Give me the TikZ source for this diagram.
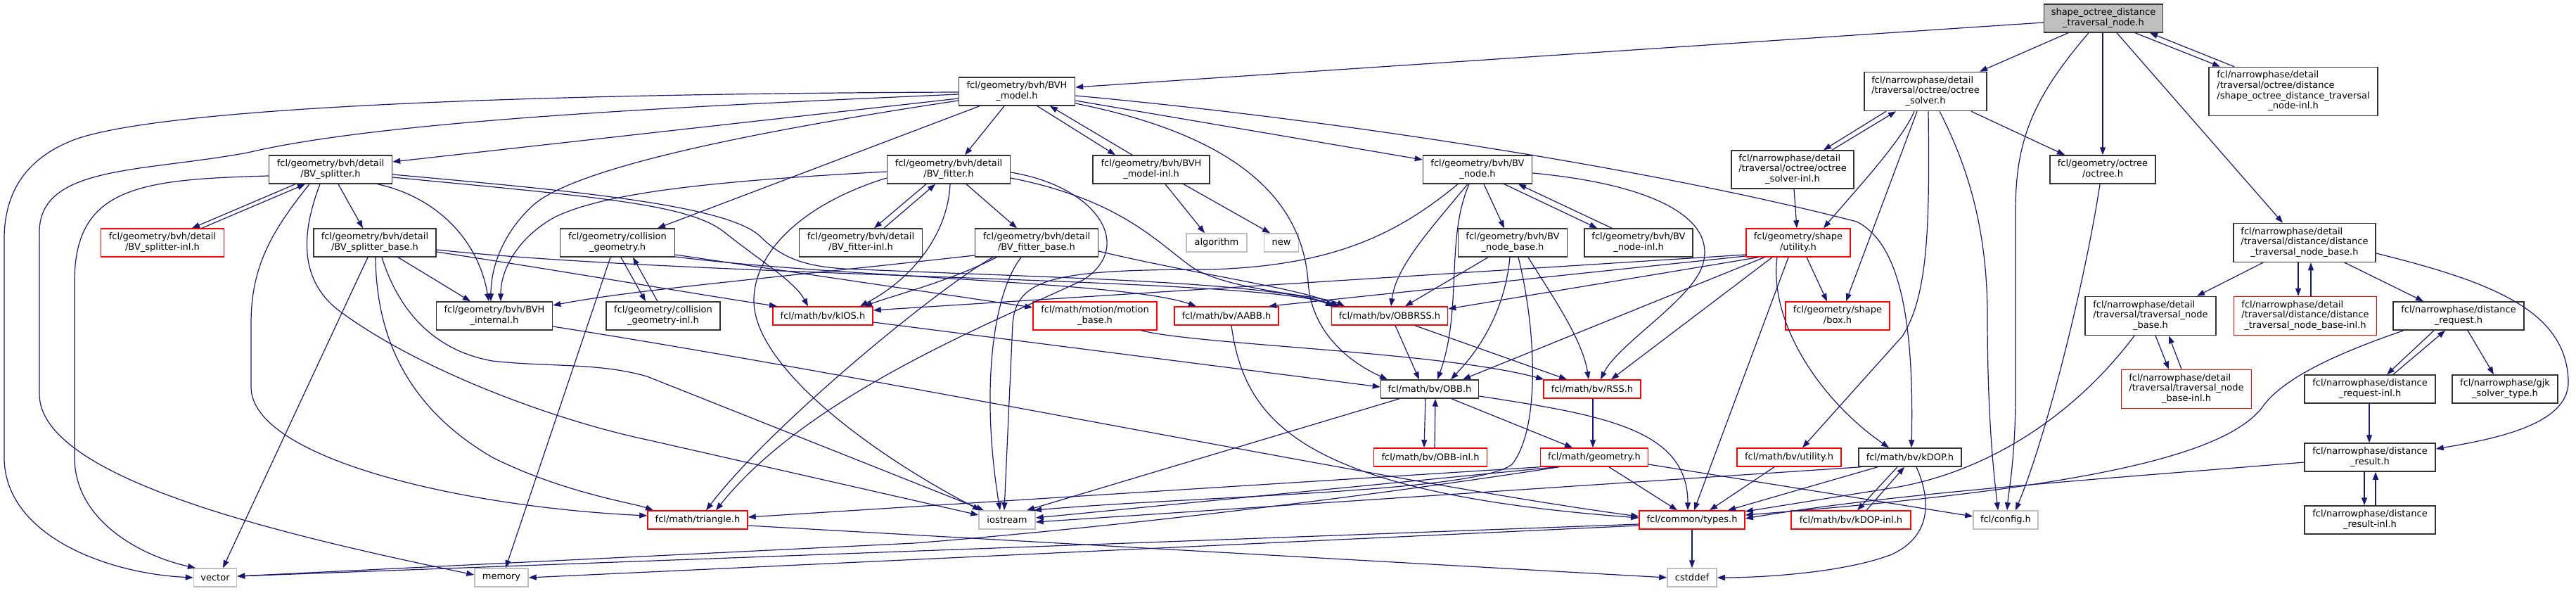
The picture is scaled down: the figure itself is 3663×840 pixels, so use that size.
\documentclass[tikz,border=0pt]{standalone}
\usepackage{fontspec}
\setmainfont{DejaVu Sans}
\usetikzlibrary{arrows.meta,calc}
\definecolor{ec}{HTML}{191970}
\definecolor{gb}{HTML}{BFBFBF}
\newcommand{\lb}[2]{\begin{tabular}{@{}l@{}}#1\\\multicolumn{1}{@{}c@{}}{#2}\end{tabular}}
\tikzset{
 nb/.style={draw=black!80,line width=1.5pt,inner sep=0pt,font=\fontsize{13}{14.7}\selectfont},
 nr/.style={nb,draw=red},
 ng/.style={nb,draw=gb},
 sz/.style 2 args={minimum width=#1pt,minimum height=#2pt},
 e/.style={ec,line width=1.2pt,-{Triangle[length=11pt,width=8pt]}},
}
\begin{document}
\begin{tikzpicture}[x=1pt,y=-1pt]
\fill[white] (0,0) rectangle (3663,840);
\useasboundingbox (0,0) rectangle (3663,840);
% ---------- nodes ----------
\node[nb,fill=gb,sz={169}{40}] (top) at (2991,26) {\lb{shape\_octree\_distance}{\_traversal\_node.h}};
\node[nb,sz={165}{40}] (BVH_model) at (1446,130) {\lb{fcl/geometry/bvh/BVH}{\_model.h}};
\node[nb,sz={174}{55}] (octree_solver) at (2738,130) {\lb{fcl/narrowphase/detail\\/traversal/octree/octree}{\_solver.h}};
\node[nb,sz={240}{69}] (sodtn_inl) at (3261,130) {\lb{fcl/narrowphase/detail\\/traversal/octree/distance\\/shape\_octree\_distance\_traversal}{\_node-inl.h}};
\node[nb,sz={175}{40}] (BV_splitter) at (470,241) {\lb{fcl/geometry/bvh/detail}{/BV\_splitter.h}};
\node[nb,sz={175}{40}] (BV_fitter) at (1349,241) {\lb{fcl/geometry/bvh/detail}{/BV\_fitter.h}};
\node[nb,sz={166}{40}] (BVH_model_inl) at (1637,241) {\lb{fcl/geometry/bvh/BVH}{\_model-inl.h}};
\node[nb,sz={155}{40}] (BV_node) at (2101,241) {\lb{fcl/geometry/bvh/BV}{\_node.h}};
\node[nb,sz={174}{54}] (octree_solver_inl) at (2549,241) {\lb{fcl/narrowphase/detail\\/traversal/octree/octree}{\_solver-inl.h}};
\node[nb,sz={150}{40}] (octree) at (2990,241) {\lb{fcl/geometry/octree}{/octree.h}};
\node[nr,sz={175}{40}] (BV_splitter_inl) at (231,345) {\lb{fcl/geometry/bvh/detail}{/BV\_splitter-inl.h}};
\node[nb,sz={174}{40}] (BV_splitter_base) at (533,345) {\lb{fcl/geometry/bvh/detail}{/BV\_splitter\_base.h}};
\node[nb,sz={163}{40}] (collision_geometry) at (878,345) {\lb{fcl/geometry/collision}{\_geometry.h}};
\node[nb,sz={175}{40}] (BV_fitter_inl) at (1224,345) {\lb{fcl/geometry/bvh/detail}{/BV\_fitter-inl.h}};
\node[nb,sz={175}{40}] (BV_fitter_base) at (1474,345) {\lb{fcl/geometry/bvh/detail}{/BV\_fitter\_base.h}};
\node[ng,sz={86}{26}] (algorithm) at (1730,345) {algorithm};
\node[ng,sz={49}{26}] (new) at (1822,345) {new};
\node[nb,sz={155}{40}] (BV_node_base) at (2151,345) {\lb{fcl/geometry/bvh/BV}{\_node\_base.h}};
\node[nb,sz={154}{40}] (BV_node_inl) at (2330,345) {\lb{fcl/geometry/bvh/BV}{\_node-inl.h}};
\node[nr,sz={148}{40}] (utility) at (2557,345) {\lb{fcl/geometry/shape}{/utility.h}};
\node[nb,sz={202}{55}] (dtnb) at (3277,345) {\lb{fcl/narrowphase/detail\\/traversal/distance/distance}{\_traversal\_node\_base.h}};
\node[nb,sz={165}{40}] (BVH_internal) at (703,449) {\lb{fcl/geometry/bvh/BVH}{\_internal.h}};
\node[nb,sz={162}{40}] (cg_inl) at (943,449) {\lb{fcl/geometry/collision}{\_geometry-inl.h}};
\node[nr,sz={142}{26}] (kIOS) at (1170,449) {fcl/math/bv/kIOS.h};
\node[nr,sz={176}{40}] (motion_base) at (1557,449) {\lb{fcl/math/motion/motion}{\_base.h}};
\node[nr,sz={148}{26}] (AABB) at (1744,449) {fcl/math/bv/AABB.h};
\node[nr,sz={165}{26}] (OBBRSS) at (1976,449) {fcl/math/bv/OBBRSS.h};
\node[nr,sz={148}{40}] (box) at (2613,449) {\lb{fcl/geometry/shape}{/box.h}};
\node[nb,sz={186}{55}] (tnb) at (3058,449) {\lb{fcl/narrowphase/detail\\/traversal/traversal\_node}{\_base.h}};
\node[nr,sz={203}{55}] (dtnb_inl) at (3278,449) {\lb{fcl/narrowphase/detail\\/traversal/distance/distance}{\_traversal\_node\_base-inl.h}};
\node[nb,sz={186}{40}] (distance_request) at (3496,449) {\lb{fcl/narrowphase/distance}{\_request.h}};
\node[nb,sz={139}{26}] (OBB) at (2033,553) {fcl/math/bv/OBB.h};
\node[nr,sz={138}{26}] (RSS) at (2264,553) {fcl/math/bv/RSS.h};
\node[nr,sz={185}{55}] (tnb_inl) at (3109,553) {\lb{fcl/narrowphase/detail\\/traversal/traversal\_node}{\_base-inl.h}};
\node[nb,sz={186}{40}] (dr_inl) at (3370,553) {\lb{fcl/narrowphase/distance}{\_request-inl.h}};
\node[nb,sz={150}{40}] (gjk) at (3562,553) {\lb{fcl/narrowphase/gjk}{\_solver\_type.h}};
\node[nr,sz={161}{26}] (OBB_inl) at (2034,650) {fcl/math/bv/OBB-inl.h};
\node[nr,sz={153}{26}] (geometry) at (2267,650) {fcl/math/geometry.h};
\node[nr,sz={148}{26}] (bv_utility) at (2544,650) {fcl/math/bv/utility.h};
\node[nb,sz={146}{26}] (kDOP) at (2716,650) {fcl/math/bv/kDOP.h};
\node[nb,sz={186}{40}] (distance_result) at (3370,650) {\lb{fcl/narrowphase/distance}{\_result.h}};
\node[nr,sz={142}{26}] (triangle) at (992,739) {fcl/math/triangle.h};
\node[ng,sz={80}{26}] (iostream) at (1432,739) {iostream};
\node[nr,sz={150}{26}] (types) at (2406,739) {fcl/common/types.h};
\node[nr,sz={170}{26}] (kDOP_inl) at (2632,739) {fcl/math/bv/kDOP-inl.h};
\node[ng,sz={92}{26}] (config) at (2852,739) {fcl/config.h};
\node[nb,sz={186}{40}] (dres_inl) at (3370,739) {\lb{fcl/narrowphase/distance}{\_result-inl.h}};
\node[ng,sz={61}{26}] (vector) at (306,821) {vector};
\node[ng,sz={76}{26}] (memory) at (713,821) {memory};
\node[ng,sz={70}{26}] (cstddef) at (2406,821) {cstddef};
% ---------- edges: top ----------
\draw[e] ($(top.west)+(0,6)$) -- ($(BVH_model.east)+(0,-6)$);
\draw[e] ($(top.south)+(-50,0)$) -- ($(octree_solver.north)+(77,0)$);
\draw[e] ($(top.south)+(-21,0)$) .. controls (2890,140) and (2866,200) .. (2866,300) -- (2866,560) .. controls (2866,650) and (2856,700) .. ($(config.north)+(2,0)$);
\draw[e] ($(top.south)+(-1,0)$) -- (octree.north);
\draw[e] ($(top.south)+(19,0)$) -- ($(dtnb.north)+(-31,0)$);
\draw[e] ($(top.south)+(45,0)$) -- ($(sodtn_inl.north)+(-104,0)$);
\draw[e] ($(sodtn_inl.north)+(-84,0)$) -- ($(top.south)+(66,0)$);
% ---------- BVH_model ----------
\draw[e] ($(BVH_model.west)+(0,1)$) .. controls (800,133) and (250,150) .. (110,197) .. controls (40,222) and (6,270) .. (6,340) -- (6,650) .. controls (6,760) and (150,815) .. (vector.west);
\draw[e] ($(BVH_model.west)+(0,4)$) .. controls (1000,150) and (550,170) .. (352,217) .. controls (200,245) and (56,235) .. (56,330) -- (56,560) .. controls (56,680) and (400,760) .. ($(memory.west)+(0,-4)$);
\draw[e] ($(BVH_model.west)+(0,10)$) -- ($(BV_splitter.east)+(0,-11)$);
\draw[e] ($(BVH_model.west)+(0,13)$) .. controls (1050,190) and (820,240) .. (760,290) .. controls (715,330) and (698,380) .. ($(BVH_internal.north)+(-5,0)$);
\draw[e] ($(BVH_model.south)+(-53,0)$) -- ($(collision_geometry.north)+(57,0)$);
\draw[e] ($(BVH_model.south)+(-18,0)$) -- ($(BV_fitter.north)+(23,0)$);
\draw[e] ($(BVH_model.south)+(29,0)$) -- ($(BVH_model_inl.north)+(-51,0)$);
\draw[e] ($(BVH_model_inl.north)+(-27,0)$) -- ($(BVH_model.south)+(47,0)$);
\draw[e] ($(BVH_model.east)+(0,13)$) -- ($(BV_node.west)+(0,-14)$);
\draw[e] ($(BVH_model.east)+(0,6)$) .. controls (1900,170) and (2350,240) .. (2640,315) .. controls (2700,345) and (2722,450) .. ($(kDOP.north)+(2,0)$);
\draw[e] ($(BVH_model.east)+(0,17)$) .. controls (1720,185) and (1850,260) .. (1860,400) .. controls (1865,480) and (1930,520) .. ($(OBB.north)+(-60,0)$);
\draw[e] ($(BVH_model_inl.south)+(20,0)$) -- ($(algorithm.north)+(-17,0)$);
\draw[e] ($(BVH_model_inl.south)+(46,0)$) -- ($(new.north)+(-16,0)$);
% ---------- octree solver ----------
\draw[e] ($(octree_solver.south)+(-56,0)$) -- ($(octree_solver_inl.north)+(44,0)$);
\draw[e] ($(octree_solver_inl.north)+(56,0)$) -- ($(octree_solver.south)+(-42,0)$);
\draw[e] ($(octree_solver.south)+(-16,0)$) .. controls (2705,200) and (2630,280) .. ($(utility.north)+(36,0)$);
\draw[e] ($(octree_solver.south)+(-12,0)$) -- ($(box.north)+(12,0)$);
\draw[e] ($(octree_solver.south)+(4,0)$) .. controls (2744,320) and (2742,420) .. (2705,478) -- ($(bv_utility.north)+(19,0)$);
\draw[e] ($(octree_solver.south)+(20,0)$) .. controls (2800,240) and (2826,330) .. (2826,450) .. controls (2826,600) and (2836,680) .. ($(config.north)+(-11,0)$);
\draw[e] ($(octree_solver.south)+(65,0)$) -- ($(octree.north)+(-54,0)$);
\draw[e] ($(octree_solver_inl.south)+(2,0)$) -- ($(utility.north)+(-2,0)$);
\draw[e] ($(octree.south)+(-4,0)$) .. controls (2965,400) and (2910,620) .. ($(config.north)+(14,0)$);
% ---------- distance traversal ----------
\draw[e] ($(dtnb.south)+(-59,0)$) -- ($(tnb.north)+(66,0)$);
\draw[e] ($(dtnb.south)+(-9,0)$) -- ($(dtnb_inl.north)+(-10,0)$);
\draw[e] ($(dtnb_inl.north)+(8,0)$) -- ($(dtnb.south)+(9,0)$);
\draw[e] ($(dtnb.south)+(57,0)$) -- ($(distance_request.north)+(-50,0)$);
\draw[e] ($(dtnb.east)+(0,15)$) .. controls (3540,400) and (3648,440) .. (3652,540) .. controls (3655,600) and (3560,622) .. ($(distance_result.east)+(0,-12)$);
\draw[e] ($(tnb.south)+(7,0)$) -- ($(tnb_inl.north)+(-25,0)$);
\draw[e] ($(tnb_inl.north)+(-7,0)$) -- ($(tnb.south)+(26,0)$);
\draw[e] ($(tnb.south)+(-23,0)$) .. controls (2950,590) and (2830,668) .. (2700,692) -- ($(types.east)+(0,-12)$);
\draw[e] ($(distance_request.south)+(-35,0)$) -- ($(dr_inl.north)+(24,0)$);
\draw[e] ($(dr_inl.north)+(33,0)$) -- ($(distance_request.south)+(-19,0)$);
\draw[e] ($(distance_request.south)+(13,0)$) -- ($(gjk.north)+(-16,0)$);
\draw[e] ($(distance_request.south)+(-78,0)$) .. controls (3300,510) and (3240,545) .. (3216,580) .. controls (3160,650) and (2950,695) .. ($(types.east)+(0,-7)$);
\draw[e] ($(dr_inl.south)+(-1,0)$) -- ($(distance_result.north)+(-1,0)$);
\draw[e] ($(distance_result.west)+(0,7)$) .. controls (3000,680) and (2700,700) .. ($(types.east)+(0,-2)$);
\draw[e] ($(distance_result.south)+(-8,0)$) -- ($(dres_inl.north)+(-8,0)$);
\draw[e] ($(dres_inl.north)+(8,0)$) -- ($(distance_result.south)+(8,0)$);
% ---------- BV_splitter ----------
\draw[e] ($(BV_splitter.south)+(-50,0)$) -- ($(BV_splitter_inl.north)+(42,0)$);
\draw[e] ($(BV_splitter_inl.north)+(56,0)$) -- ($(BV_splitter.south)+(-36,0)$);
\draw[e] ($(BV_splitter.west)+(0,9)$) .. controls (200,255) and (106,265) .. (106,400) -- (106,650) .. controls (106,740) and (200,790) .. ($(vector.north)+(-28,0)$);
\draw[e] ($(BV_splitter.south)+(-30,0)$) .. controls (385,330) and (357,380) .. (357,460) -- (357,550) .. controls (357,650) and (650,720) .. ($(triangle.west)+(0,-6)$);
\draw[e] ($(BV_splitter.south)+(-15,0)$) .. controls (425,340) and (430,400) .. (480,440) .. controls (600,530) and (800,600) .. (920,625) -- ($(iostream.west)+(0,-7)$);
\draw[e] ($(BV_splitter.south)+(11,0)$) -- ($(BV_splitter_base.north)+(-17,0)$);
\draw[e] ($(BV_splitter.south)+(67,0)$) .. controls (620,280) and (680,340) .. ($(BVH_internal.north)+(-8,0)$);
\draw[e] ($(BV_splitter.east)+(0,7)$) .. controls (800,270) and (1030,290) .. (1080,335) .. controls (1110,365) and (1140,378) .. (1200,382) .. controls (1500,395) and (1800,400) .. ($(OBBRSS.north)+(-73,0)$);
\draw[e] ($(BV_splitter.east)+(0,11)$) .. controls (850,280) and (980,290) .. (1030,330) .. controls (1080,370) and (1130,400) .. ($(kIOS.north)+(-21,0)$);
% ---------- BV_splitter_base ----------
\draw[e] ($(BV_splitter_base.south)+(-10,0)$) -- ($(vector.north)+(11,0)$);
\draw[e] ($(BV_splitter_base.south)+(1,0)$) .. controls (535,480) and (580,580) .. (700,650) .. controls (800,700) and (900,715) .. ($(triangle.north)+(-63,0)$);
\draw[e] ($(BV_splitter_base.south)+(10,0)$) .. controls (560,420) and (600,495) .. (700,513) .. controls (780,522) and (850,515) .. (920,535) -- ($(iostream.north)+(-33,0)$);
\draw[e] ($(BV_splitter_base.south)+(33,0)$) -- ($(BVH_internal.north)+(-34,0)$);
\draw[e] ($(BV_splitter_base.east)+(0,13)$) .. controls (800,385) and (1000,420) .. ($(kIOS.north)+(-65,0)$);
\draw[e] ($(BV_splitter_base.east)+(0,10)$) .. controls (1000,395) and (1800,395) .. ($(OBBRSS.north)+(-80,0)$);
% ---------- collision geometry ----------
\draw[e] ($(collision_geometry.south)+(-10,0)$) -- ($(memory.north)+(6,0)$);
\draw[e] ($(collision_geometry.south)+(5,0)$) -- ($(cg_inl.north)+(-25,0)$);
\draw[e] ($(cg_inl.north)+(-8,0)$) -- ($(collision_geometry.south)+(22,0)$);
\draw[e] ($(collision_geometry.east)+(0,17)$) -- ($(motion_base.west)+(0,-12)$);
\draw[e] ($(collision_geometry.east)+(0,20)$) .. controls (1200,395) and (1600,400) .. ($(AABB.north)+(-43,0)$);
% ---------- BV_fitter ----------
\draw[e] ($(BV_fitter.west)+(0,3)$) .. controls (1000,258) and (860,275) .. (790,308) .. controls (740,335) and (712,380) .. ($(BVH_internal.north)+(9,0)$);
\draw[e] ($(BV_fitter.south)+(-32,0)$) -- ($(BV_fitter_inl.north)+(19,0)$);
\draw[e] ($(BV_fitter_inl.north)+(33,0)$) -- ($(BV_fitter.south)+(-19,0)$);
\draw[e] ($(BV_fitter.west)+(0,12)$) .. controls (1140,290) and (1070,360) .. (1072,430) .. controls (1075,520) and (1230,640) .. ($(iostream.north)+(-38,0)$);
\draw[e] ($(BV_fitter.south)+(2,0)$) .. controls (1348,330) and (1300,395) .. ($(kIOS.north)+(53,0)$);
\draw[e] ($(BV_fitter.south)+(25,0)$) -- ($(BV_fitter_base.north)+(-28,0)$);
\draw[e] ($(BV_fitter.east)+(0,4)$) .. controls (1560,265) and (1615,350) .. (1540,398) .. controls (1420,455) and (1150,560) .. ($(triangle.north)+(26,0)$);
\draw[e] ($(BV_fitter.east)+(0,12)$) .. controls (1600,285) and (1650,350) .. (1700,383) .. controls (1760,415) and (1880,420) .. ($(OBBRSS.north)+(-64,0)$);
% ---------- BV_fitter_base ----------
\draw[e] ($(BV_fitter_base.west)+(0,18)$) .. controls (1100,395) and (900,412) .. ($(BVH_internal.east)+(0,-15)$);
\draw[e] ($(BV_fitter_base.south)+(-57,0)$) .. controls (1350,400) and (1270,420) .. ($(kIOS.north)+(59,0)$);
\draw[e] ($(BV_fitter_base.south)+(-62,0)$) .. controls (1340,405) and (1100,600) .. ($(triangle.north)+(12,0)$);
\draw[e] ($(BV_fitter_base.south)+(-22,0)$) .. controls (1410,420) and (1395,560) .. ($(iostream.north)+(-10,0)$);
\draw[e] ($(BV_fitter_base.east)+(0,12)$) .. controls (1700,390) and (1850,410) .. ($(OBBRSS.north)+(-72,0)$);
% ---------- BV_node ----------
\draw[e] ($(BV_node.south)+(9,0)$) -- ($(BV_node_base.north)+(-12,0)$);
\draw[e] ($(BV_node.south)+(38,0)$) -- ($(BV_node_inl.north)+(-59,0)$);
\draw[e] ($(BV_node_inl.north)+(-38,0)$) -- ($(BV_node.south)+(58,0)$);
\draw[e] ($(BV_node.south)+(-28,0)$) .. controls (1990,330) and (1900,378) .. (1720,383) .. controls (1500,383) and (1445,395) .. (1440,460) -- ($(iostream.north)+(-4,0)$);
\draw[e] ($(BV_node.south)+(-14,0)$) .. controls (2030,330) and (1985,380) .. ($(OBBRSS.north)+(2,0)$);
\draw[e] ($(BV_node.south)+(-12,0)$) .. controls (2055,340) and (2080,440) .. ($(OBB.north)+(11,0)$);
\draw[e] ($(BV_node.east)+(0,5)$) .. controls (2350,262) and (2445,310) .. (2420,380) .. controls (2400,430) and (2300,490) .. ($(RSS.north)+(12,0)$);
% ---------- BV_node_base ----------
\draw[e] ($(BV_node_base.south)+(-35,0)$) -- ($(OBBRSS.north)+(22,0)$);
\draw[e] ($(BV_node_base.south)+(-4,0)$) .. controls (2142,420) and (2120,480) .. ($(OBB.north)+(30,0)$);
\draw[e] ($(BV_node_base.south)+(8,0)$) .. controls (2185,470) and (2190,610) .. (2150,660) .. controls (2100,700) and (1700,705) .. ($(iostream.north)+(38,0)$);
\draw[e] ($(BV_node_base.south)+(22,0)$) .. controls (2200,410) and (2250,480) .. ($(RSS.north)+(-5,0)$);
% ---------- shape utility ----------
\draw[e] ($(utility.west)+(0,17)$) -- ($(kIOS.east)+(0,-8)$);
\draw[e] ($(utility.west)+(0,19)$) -- ($(AABB.north)+(60,0)$);
\draw[e] ($(utility.south)+(-57,0)$) -- ($(OBBRSS.east)+(0,-10)$);
\draw[e] ($(utility.south)+(-48,0)$) -- ($(OBB.north)+(47,0)$);
\draw[e] ($(utility.south)+(-37,0)$) -- ($(RSS.north)+(27,0)$);
\draw[e] ($(utility.south)+(12,0)$) -- ($(box.north)+(-15,0)$);
\draw[e] ($(utility.south)+(-14,0)$) -- ($(types.north)+(3,0)$);
\draw[e] ($(utility.south)+(-30,0)$) .. controls (2515,460) and (2590,570) .. ($(kDOP.north)+(-30,0)$);
% ---------- lower part ----------
\draw[e] ($(BVH_internal.east)+(0,15)$) .. controls (1300,545) and (2000,690) .. ($(types.west)+(0,-5)$);
\draw[e] ($(kIOS.east)+(0,9)$) -- ($(OBB.west)+(0,-3)$);
\draw[e] ($(motion_base.south)+(66,0)$) .. controls (1700,490) and (2050,500) .. ($(RSS.north west)+(1,0)$);
\draw[e] ($(AABB.south)+(7,0)$) .. controls (1770,600) and (1850,700) .. ($(types.west)+(0,-3)$);
\draw[e] ($(OBBRSS.south)+(8,0)$) -- ($(OBB.north)+(-15,0)$);
\draw[e] ($(OBBRSS.south)+(36,0)$) -- ($(RSS.north)+(-36,0)$);
\draw[e] ($(OBB.south)+(-43,0)$) -- ($(iostream.north)+(28,0)$);
\draw[e] ($(OBB.south)+(-6,0)$) -- ($(OBB_inl.north)+(-9,0)$);
\draw[e] ($(OBB_inl.north)+(6,0)$) -- ($(OBB.south)+(8,0)$);
\draw[e] ($(OBB.south)+(31,0)$) -- ($(geometry.north)+(-31,0)$);
\draw[e] ($(OBB.east)+(0,10)$) .. controls (2280,590) and (2400,610) .. ($(types.north)+(-6,0)$);
\draw[e] ($(RSS.south)+(1,0)$) -- ($(geometry.north)+(-2,0)$);
\draw[e] (geometry.south west) -- ($(triangle.east)+(0,-4)$);
\draw[e] ($(geometry.south)+(-54,0)$) -- ($(iostream.east)+(0,-3)$);
\draw[e] ($(geometry.south)+(-50,0)$) .. controls (1950,705) and (1600,748) .. (1300,772) -- ($(vector.east)+(0,-2)$);
\draw[e] ($(geometry.south)+(21,0)$) -- ($(types.north)+(-21,0)$);
\draw[e] ($(geometry.east)+(0,10)$) -- ($(config.west)+(0,-5)$);
\draw[e] ($(kDOP.south)+(-46,0)$) -- ($(types.north)+(51,0)$);
\draw[e] ($(kDOP.south)+(-18,0)$) -- ($(kDOP_inl.north)+(9,0)$);
\draw[e] ($(kDOP_inl.north)+(22,0)$) -- ($(kDOP.south)+(-8,0)$);
\draw[e] ($(kDOP.south)+(9,0)$) .. controls (2750,720) and (2740,765) .. (2690,788) .. controls (2620,815) and (2500,821) .. (cstddef.east);
\draw[e] ($(kDOP.south west)+(4,0)$) -- ($(iostream.east)+(0,3)$);
\draw[e] ($(bv_utility.south)+(-21,0)$) -- ($(types.north)+(25,0)$);
\draw[e] ($(triangle.east)+(0,8)$) -- (cstddef.west);
\draw[e] (types.south) -- (cstddef.north);
\draw[e] ($(types.west)+(0,6)$) -- ($(vector.east)+(0,-2)$);
\draw[e] ($(types.west)+(0,8)$) -- (memory.east);
\end{tikzpicture}
\end{document}
